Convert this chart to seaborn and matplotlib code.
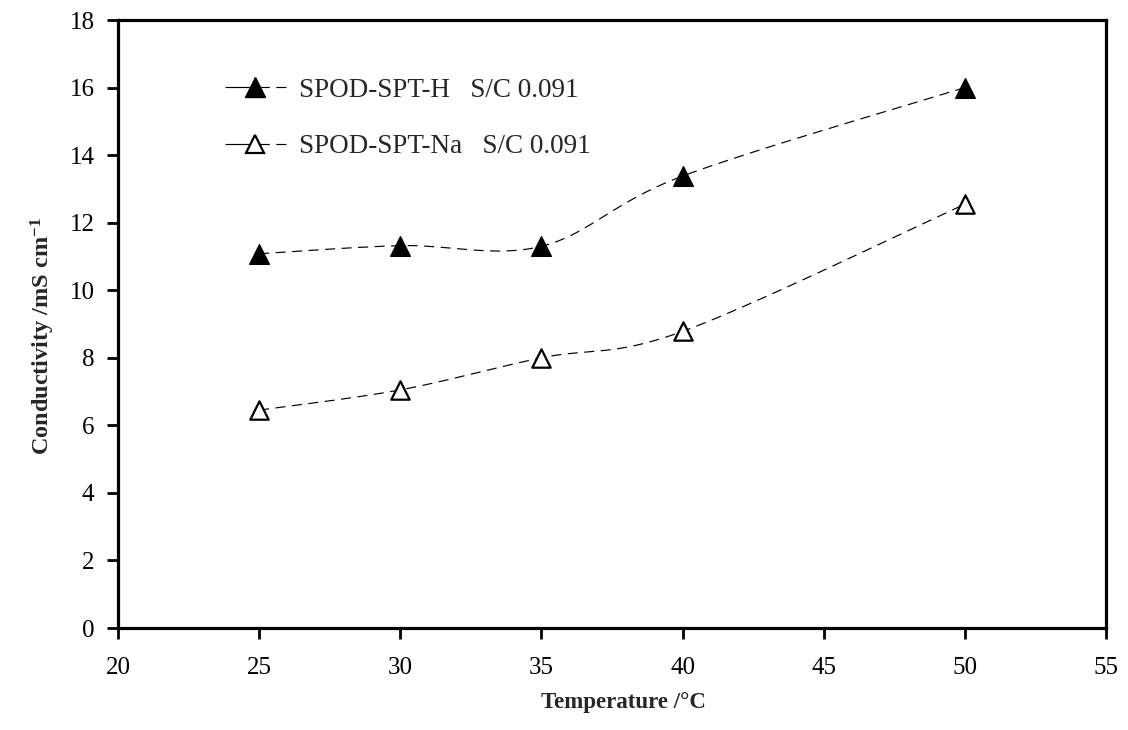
import numpy as np
import pandas as pd
import matplotlib
matplotlib.use("Agg")
import matplotlib.pyplot as plt
from matplotlib.lines import Line2D
import seaborn as sns

# Measured conductivity versus temperature
temperature = [25, 30, 35, 40, 50]
cond_h = [11.08, 11.32, 11.30, 13.38, 16.0]
cond_na = [6.45, 7.05, 8.0, 8.78, 12.55]
label_h = "SPOD-SPT-H   S/C 0.091"
label_na = "SPOD-SPT-Na   S/C 0.091"
x_ticks = [20, 25, 30, 35, 40, 45, 50, 55]
y_ticks = [0, 2, 4, 6, 8, 10, 12, 14, 16, 18]

sns.set_theme(style="white")
plt.rcParams["font.family"] = ["Liberation Serif", "DejaVu Serif"]
plt.rcParams["mathtext.fontset"] = "custom"
plt.rcParams["mathtext.rm"] = "Liberation Serif"
plt.rcParams["mathtext.bf"] = "Liberation Serif:bold"
plt.rcParams["mathtext.default"] = "bf"


def smooth_curve(xs, ys, n=40):
    """Piecewise cubic Bezier through the points (Catmull-Rom style smoothing)."""
    p = np.column_stack([xs, ys]).astype(float)
    ext = np.vstack([p[0], p, p[-1]])
    t = np.linspace(0, 1, n)[:, None]
    out = []
    for i in range(len(p) - 1):
        p0, p3 = ext[i + 1], ext[i + 2]
        c1 = p0 + (ext[i + 2] - ext[i]) / 6.0
        c2 = p3 - (ext[i + 3] - ext[i + 1]) / 6.0
        seg = ((1 - t) ** 3) * p0 + 3 * ((1 - t) ** 2) * t * c1 + 3 * (1 - t) * t ** 2 * c2 + t ** 3 * p3
        out.append(seg if i == 0 else seg[1:])
    out = np.vstack(out)
    return out[:, 0], out[:, 1]


fig = plt.figure(figsize=(11.28, 7.30), dpi=100)
ax = fig.add_axes([0.1046, 0.1397, 0.8759, 0.8329])

dash = (8.5, 5.5)
lw = 0.85
for ys in (cond_h, cond_na):
    sx, sy = smooth_curve(temperature, ys)
    curve = pd.DataFrame({"x": sx, "y": sy})
    sns.lineplot(data=curve, x="x", y="y", sort=False, estimator=None, ax=ax,
                 color="black", linewidth=lw, dashes=False)
    ax.lines[-1].set_dashes(dash)

pts_h = pd.DataFrame({"x": temperature, "y": cond_h})
pts_na = pd.DataFrame({"x": temperature, "y": cond_na})
sns.scatterplot(data=pts_h, x="x", y="y", marker="^", s=200, color="black",
                edgecolor="black", linewidth=1.0, ax=ax, zorder=3)
sns.scatterplot(data=pts_na, x="x", y="y", marker="^", s=175, facecolor="white",
                edgecolor="black", linewidth=1.6, ax=ax, zorder=3)

ax.set_xlim(20, 55)
ax.set_ylim(0, 18)
ax.set_xticks(x_ticks)
ax.set_yticks(y_ticks)
ax.tick_params(axis="both", which="major", direction="out", length=8, width=2,
               color="black", labelsize=18, labelcolor="black", bottom=True, left=True,
               top=False, right=False)
ax.tick_params(axis="x", pad=13)
ax.tick_params(axis="y", pad=9)
for s in ax.spines.values():
    s.set_visible(True)
    s.set_color("black")
    s.set_linewidth(2.3)

ax.set_xlabel("Temperature /\u00b0C", fontsize=16.5, fontweight="bold")
ax.set_ylabel("Conductivity /mS cm$^{-1}$", fontsize=17.5, fontweight="bold")
ax.xaxis.set_label_coords(0.512, -0.105)
ax.yaxis.set_label_coords(-0.062, 0.48)

handles = [
    Line2D([0], [0], color="black", linewidth=lw, dashes=(24, 5.5, 8, 5.5), marker="^",
           markersize=14, markerfacecolor="black", markeredgecolor="black"),
    Line2D([0], [0], color="black", linewidth=lw, dashes=(24, 5.5, 8, 5.5), marker="^",
           markersize=13, markerfacecolor="white", markeredgecolor="black",
           markeredgewidth=1.6),
]
ax.legend(handles, [label_h, label_na], loc="upper left", bbox_to_anchor=(0.108, 0.905),
          frameon=False, fontsize=19.5, handlelength=2.25, handletextpad=0.5,
          labelspacing=1.17, borderpad=0, borderaxespad=0)

fig.savefig("out.png", dpi=100)
